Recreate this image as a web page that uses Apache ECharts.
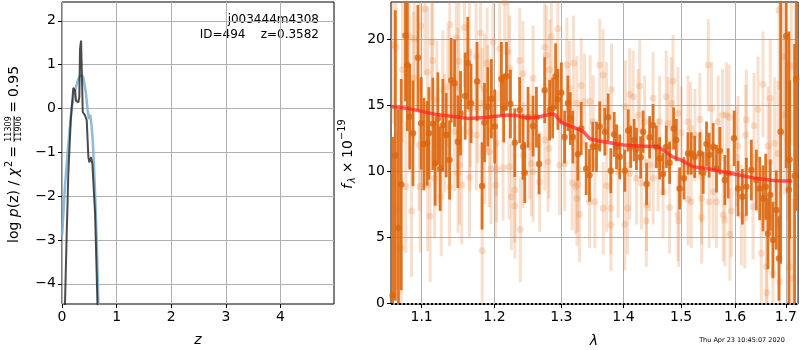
<!DOCTYPE html>
<html>
<head>
<meta charset="utf-8">
<script src="https://cdn.jsdelivr.net/npm/echarts@6/dist/echarts.min.js"></script>
<style>
  html, body { margin: 0; padding: 0; background: #fff; }
  #chart { width: 800px; height: 350px; }
</style>
</head>
<body>
<div id="chart"></div>
<script>
// p(z) panel
const pzBlue = [[0.0, -2.9], [0.012, -2.71], [0.055, -1.76], [0.116, -0.81], [0.178, 0.03], [0.239, 0.41],
  [0.30, 0.68], [0.349, 0.77], [0.391, 0.71], [0.44, 0.33], [0.47, -0.05], [0.495, -0.24], [0.514, -0.14],
  [0.538, -0.35], [0.563, -0.73], [0.587, -1.34], [0.611, -2.1], [0.636, -3.01], [0.666, -4.45], [0.69, -5.5]];
const pzDark = [[0.045, -6.0], [0.055, -4.45], [0.086, -2.87], [0.116, -1.49], [0.16, -0.27], [0.207, 0.47],
  [0.239, 0.41], [0.257, 0.18], [0.30, 0.14], [0.317, 0.26], [0.33, 1.36], [0.349, 1.55], [0.361, 0.94],
  [0.38, -0.08], [0.422, -0.16], [0.453, -0.27], [0.483, -1.11], [0.50, -1.23], [0.532, -1.11],
  [0.556, -1.26], [0.606, -2.4], [0.648, -4.38], [0.665, -6.0]];
const zTicks = [0, 1, 2, 3, 4];
const lnpTicks = [-4, -3, -2, -1, 0, 1, 2];

// spectrum panel: [lambda, flux, error]
const darkPts = [
  [1.0625, 0.6, 12], [1.0660, 11.2, 11], [1.0700, 5.7, 9], [1.0735, 9.0, 8], [1.0790, 20.3, 5],
  [1.0814, 18.05, 5], [1.0845, 14.14, 4], [1.0887, 12.88, 4], [1.0952, 18.6, 4], [1.0995, 13.64, 3.5],
  [1.1030, 12.07, 3.5], [1.1073, 12.12, 3.2], [1.1096, 12.88, 3.5], [1.1149, 13.6, 3.5], [1.1179, 10.6, 3.2],
  [1.1216, 14.0, 3.5], [1.1247, 10.2, 3.2], [1.1283, 13.5, 3.5], [1.1328, 12.75, 3.2], [1.1374, 10.86, 3],
  [1.1396, 16.9, 3.2], [1.1442, 16.67, 3.3], [1.1487, 12.24, 3.5], [1.1524, 14.4, 3.2], [1.1588, 15.7, 3.3],
  [1.1624, 18.2, 3.5], [1.1670, 15.15, 3], [1.1754, 16.8, 3], [1.1824, 8.89, 3.3], [1.1858, 13.7, 3],
  [1.1905, 14.9, 3], [1.1957, 15.5, 3], [1.2004, 13.4, 2.8], [1.2101, 17.0, 2.8], [1.2134, 14.8, 2.6],
  [1.2174, 17.2, 2.6], [1.2232, 15.1, 2.6], [1.2295, 12.17, 2.6], [1.2368, 14.64, 2.5], [1.2417, 11.86, 2.5],
  [1.2443, 9.9, 2.3], [1.2492, 14.1, 2.3], [1.2567, 13.43, 2.3], [1.2618, 14.1, 2.3], [1.2657, 10.55, 2.3],
  [1.2743, 16.15, 2.5], [1.2819, 14.64, 2.3], [1.2865, 14.8, 2.3], [1.2911, 17.2, 2.5], [1.2946, 15.45, 2.3],
  [1.2999, 15.95, 2.3], [1.3050, 12.6, 2], [1.3102, 15.15, 2.1], [1.3139, 14.0, 2], [1.3180, 12.6, 2],
  [1.3259, 11.3, 2], [1.3312, 13.25, 2], [1.3391, 10.2, 2], [1.3444, 9.7, 2], [1.3498, 11.86, 1.9],
  [1.3557, 11.86, 1.9], [1.3610, 13.4, 1.9], [1.3692, 13.0, 1.8], [1.3748, 14.1, 1.8], [1.3791, 10.05, 1.7],
  [1.3847, 12.8, 1.7], [1.3885, 11.86, 1.7], [1.3939, 11.1, 1.7], [1.4023, 10.05, 1.6], [1.4080, 13.1, 1.6],
  [1.4123, 11.86, 1.6], [1.4181, 12.37, 1.6], [1.4220, 11.7, 1.6], [1.4292, 11.06, 1.6], [1.4333, 13.0, 1.6],
  [1.4394, 9.04, 1.6], [1.4446, 12.58, 1.6], [1.4505, 13.5, 1.6], [1.4562, 11.86, 1.6], [1.4619, 10.98, 1.6],
  [1.4679, 9.8, 1.6], [1.4736, 11.86, 1.6], [1.4795, 10.65, 1.6], [1.4866, 13.25, 1.6], [1.4913, 12.37, 1.6],
  [1.4973, 8.7, 1.6], [1.5051, 9.47, 1.6], [1.5123, 11.36, 1.6], [1.5182, 11.36, 1.6], [1.5245, 11.1, 1.6],
  [1.5340, 11.36, 1.6], [1.5401, 9.9, 1.6], [1.5462, 12.07, 1.7], [1.5511, 11.23, 1.7], [1.5585, 11.86, 1.8],
  [1.5647, 10.2, 1.8], [1.5710, 11.56, 1.8], [1.5804, 9.34, 1.9], [1.5867, 9.85, 1.9], [1.5980, 12.5, 2.1],
  [1.6056, 8.7, 2.1], [1.6139, 8.07, 2.1], [1.6216, 8.83, 2.2], [1.6313, 10.1, 2.3], [1.6410, 9.34, 2.3],
  [1.6477, 8.7, 2.4], [1.6542, 7.95, 2.5], [1.6595, 8.83, 2.5], [1.6640, 5.3, 2.7], [1.6686, 8.2, 2.7],
  [1.6739, 4.8, 2.9], [1.6806, 7.07, 3], [1.6860, 3.4, 3.2], [1.6894, 13.0, 10], [1.7007, 20.25, 10],
  [1.7062, 8.6, 12], [1.7076, 10.9, 6], [1.7178, 9.64, 10], [1.7211, 17.0, 10]
];
const lightPts = [
  [1.0630, 19.6, 6], [1.0667, 19.4, 6], [1.0672, 7.07, 6], [1.0737, 4.17, 5], [1.0752, 17.7, 5.5],
  [1.0795, 8.83, 5], [1.0838, 20.3, 5], [1.0868, 7.0, 5], [1.0894, 17.1, 5], [1.0903, 20.07, 5],
  [1.0968, 12.0, 5], [1.0981, 8.83, 5], [1.0989, 21.0, 5], [1.1042, 22.3, 5], [1.1077, 17.5, 5],
  [1.1080, 8.96, 5], [1.1113, 6.6, 5], [1.1134, 19.8, 4.5], [1.1145, 18.4, 4.5], [1.1172, 9.47, 4.5],
  [1.1203, 15.4, 4.5], [1.1216, 11.86, 4.5], [1.1261, 8.07, 4.5], [1.1283, 16.2, 4.5], [1.1306, 12.88, 4.5],
  [1.1351, 16.4, 4.5], [1.1374, 8.83, 4.5], [1.1376, 21.1, 4.5], [1.1442, 13.0, 4.5], [1.1464, 20.1, 4.5],
  [1.1487, 16.4, 4.5], [1.1490, 9.85, 4.5], [1.1501, 18.35, 4.5], [1.1510, 10.48, 4.5], [1.1541, 8.96, 4.5],
  [1.1578, 20.9, 4.5], [1.1646, 19.0, 4.5], [1.1648, 9.55, 4.5], [1.1650, 13.0, 4.5], [1.1662, 14.8, 4.5],
  [1.1740, 18.7, 4.2], [1.1742, 12.75, 4.2], [1.1764, 14.8, 4.2], [1.1802, 20.5, 4.2], [1.1824, 15.15, 4.2],
  [1.1826, 3.98, 4.2], [1.1858, 16.2, 4.2], [1.1860, 11.74, 4.2], [1.1896, 18.2, 4.2], [1.1905, 15.4, 4.2],
  [1.1929, 11.5, 4.2], [1.1952, 10.2, 4.2], [1.1980, 19.8, 4.2], [1.2019, 8.96, 4], [1.2029, 12.12, 4],
  [1.2031, 10.15, 4], [1.2076, 19.3, 4], [1.2124, 10.27, 4], [1.2149, 22.8, 4], [1.2197, 19.06, 4],
  [1.2212, 10.35, 4], [1.2222, 17.8, 4], [1.2246, 8.07, 4], [1.2295, 8.58, 4], [1.2297, 7.37, 4],
  [1.2368, 18.4, 4], [1.2378, 5.6, 4], [1.2417, 17.4, 4], [1.2419, 11.23, 4], [1.2517, 11.86, 4],
  [1.2542, 10.6, 4], [1.2567, 17.05, 4], [1.2569, 9.97, 3.8], [1.2667, 9.21, 3.8], [1.2743, 19.4, 3.8],
  [1.2745, 12.37, 3.8], [1.2769, 18.8, 3.8], [1.2794, 10.73, 3.8], [1.2809, 11.74, 3.8], [1.2819, 17.7, 3.8],
  [1.2845, 20.2, 3.8], [1.2946, 20.8, 3.8], [1.2972, 10.48, 3.8], [1.3050, 10.6, 3.6], [1.3086, 18.05, 3.6],
  [1.3128, 16.3, 3.6], [1.3170, 9.14, 3.6], [1.3191, 18.2, 3.6], [1.3222, 8.83, 3.6], [1.3243, 15.15, 3.6],
  [1.3245, 7.95, 3.6], [1.3259, 9.0, 3.6], [1.3285, 6.74, 3.6], [1.3312, 16.5, 3.6], [1.3364, 15.3, 3.6],
  [1.3444, 7.7, 3.5], [1.3455, 15.3, 3.5], [1.3503, 13.76, 3.5], [1.3530, 7.7, 3.5], [1.3610, 18.05, 3.5],
  [1.3665, 17.3, 3.5], [1.3667, 7.2, 3.5], [1.3720, 14.77, 3.5], [1.3722, 8.91, 3.5], [1.3791, 7.2, 3.5],
  [1.3793, 5.93, 3.5], [1.3802, 16.2, 3.5], [1.3912, 9.97, 3.5], [1.4023, 6.0, 3.5], [1.4034, 14.9, 3.5],
  [1.4068, 7.2, 3.5], [1.4106, 15.83, 3.5], [1.4108, 9.85, 3.5], [1.4164, 15.65, 3.5], [1.4220, 9.47, 3.5],
  [1.4249, 14.26, 3.5], [1.4275, 16.46, 3.5], [1.4304, 9.09, 3.5], [1.4360, 13.76, 3.5], [1.4389, 6.26, 3.5],
  [1.4395, 7.45, 3.5], [1.4446, 10.48, 3.5], [1.4505, 15.53, 3.5], [1.4507, 9.47, 3.5], [1.4591, 10.48, 3.5],
  [1.4619, 13.76, 3.5], [1.4679, 8.45, 3.5], [1.4736, 15.65, 3.5], [1.4766, 13.64, 3.5], [1.4795, 7.27, 3.5],
  [1.4824, 15.15, 3.5], [1.4855, 16.84, 3.5], [1.4943, 14.4, 3.5], [1.4945, 6.69, 3.5], [1.4956, 6.26, 3.5],
  [1.5003, 12.93, 3.5], [1.5123, 13.76, 3.5], [1.5125, 7.88, 3.5], [1.5170, 13.26, 3.5], [1.5182, 7.7, 3.5],
  [1.5249, 12.75, 3.5], [1.5340, 13.94, 3.5], [1.5369, 9.6, 3.5], [1.5371, 7.95, 3.5], [1.5373, 6.51, 3.5],
  [1.5494, 18.05, 3.5], [1.5511, 7.7, 3.5], [1.5554, 14.77, 3.5], [1.5585, 8.45, 3.5], [1.5647, 7.7, 3.5],
  [1.5679, 13.76, 3.5], [1.5760, 14.26, 3.5], [1.5772, 6.69, 3.5], [1.5804, 6.31, 3.5], [1.5834, 14.26, 4],
  [1.5885, 14.1, 4], [1.5898, 5.23, 3.5], [1.5929, 7.0, 3.5], [1.6024, 11.1, 3.8], [1.6056, 11.92, 3.8],
  [1.6120, 6.69, 3.8], [1.6185, 6.44, 3.8], [1.6204, 12.75, 3.8], [1.6216, 13.9, 3.8], [1.6346, 7.32, 4],
  [1.6365, 13.45, 4], [1.6443, 14.7, 4], [1.6508, 3.79, 4], [1.6542, 16.6, 4], [1.6607, 2.77, 4.5],
  [1.6620, 0.8, 4.5], [1.6640, 11.92, 4.5], [1.6674, 10.73, 4.5], [1.6686, 15.53, 4.5], [1.6739, 2.27, 4.5],
  [1.6773, 12.12, 5], [1.6840, 11.36, 5.5], [1.6860, 22.2, 6], [1.6874, 1.64, 5.5], [1.6941, 18.7, 6],
  [1.6975, 14.26, 6], [1.7042, 12.37, 6], [1.7076, 2.77, 6], [1.7109, 17.98, 6], [1.7143, 1.9, 6]
];
const modelLam = [1.0605, 1.08, 1.093, 1.12, 1.151, 1.164, 1.19, 1.217, 1.232, 1.242, 1.25, 1.265, 1.284,
  1.29, 1.30, 1.315, 1.329, 1.337, 1.344, 1.36, 1.38, 1.40, 1.43, 1.459, 1.47, 1.485, 1.50, 1.522, 1.55,
  1.576, 1.61, 1.64, 1.67, 1.69, 1.713];
const modelFlux = [14.92, 14.78, 14.64, 14.3, 14.09, 14.0, 14.1, 14.26, 14.24, 14.09, 14.05, 14.12, 14.34,
  14.3, 13.7, 13.4, 13.15, 12.9, 12.5, 12.3, 12.15, 12.0, 11.92, 11.86, 11.55, 11.1, 10.85, 10.35, 10.2,
  9.97, 9.7, 9.47, 9.33, 9.27, 9.27];
const lamTicks = [1.1, 1.2, 1.3, 1.4, 1.5, 1.6, 1.7];
const fluxTicks = [0, 5, 10, 15, 20];

const FONT = 'DejaVu Sans';
const chart = echarts.init(document.getElementById('chart'));

function minus(v) {
  return v < 0 ? '\u2212' + Math.abs(v) : String(v);
}

function axisCommon(ticks, fmt) {
  return {
    axisLine: { show: false, onZero: false },
    axisTick: { show: true, inside: false, length: 4, customValues: ticks, lineStyle: { color: '#000', width: 1 } },
    axisLabel: { customValues: ticks, color: '#000', fontFamily: FONT, fontSize: 14, margin: 6, formatter: fmt },
    splitLine: { show: true, lineStyle: { color: '#b0b0b0', width: 1 } }
  };
}

function errorBars(color, width) {
  return function (params, api) {
    const x = api.value(0), y = api.value(1), e = api.value(2);
    const p1 = api.coord([x, y - e]);
    const p2 = api.coord([x, y + e]);
    return {
      type: 'line',
      shape: { x1: p1[0], y1: p1[1], x2: p2[0], y2: p2[1] },
      style: { stroke: color, lineWidth: width }
    };
  };
}

const option = {
  animation: false,
  grid: [
    { left: 62, right: 466, top: 2, bottom: 46, show: true, borderColor: '#000', borderWidth: 1, backgroundColor: 'transparent' },
    { left: 391, right: 1, top: 2, bottom: 46, show: true, borderColor: '#000', borderWidth: 1, backgroundColor: 'transparent' }
  ],
  xAxis: [
    Object.assign({ type: 'value', gridIndex: 0, min: 0, max: 4.98 }, axisCommon(zTicks, v => String(v))),
    Object.assign({ type: 'log', gridIndex: 1, min: 1.0605, max: 1.725 }, axisCommon(lamTicks, v => v.toFixed(1)))
  ],
  yAxis: [
    Object.assign({ type: 'value', gridIndex: 0, min: -4.46, max: 2.43 }, axisCommon(lnpTicks, minus)),
    Object.assign({ type: 'value', gridIndex: 1, min: -0.05, max: 22.83 }, axisCommon(fluxTicks, v => String(v)))
  ],
  series: [
    {
      type: 'line', xAxisIndex: 0, yAxisIndex: 0, data: pzBlue, showSymbol: false, clip: true,
      lineStyle: { color: 'rgba(120,175,215,0.85)', width: 2.5 }, z: 3
    },
    {
      type: 'line', xAxisIndex: 0, yAxisIndex: 0, data: pzDark, showSymbol: false, clip: true,
      lineStyle: { color: 'rgba(45,45,45,0.85)', width: 2 }, z: 4
    },
    {
      type: 'custom', xAxisIndex: 1, yAxisIndex: 1, data: lightPts, clip: true,
      encode: { x: 0, y: 1 }, renderItem: errorBars('rgba(232,130,60,0.25)', 3), z: 2
    },
    {
      type: 'scatter', xAxisIndex: 1, yAxisIndex: 1, data: lightPts, symbolSize: 7, clip: true,
      itemStyle: { color: 'rgba(232,130,60,0.3)' }, z: 2
    },
    {
      type: 'custom', xAxisIndex: 1, yAxisIndex: 1, data: darkPts, clip: true,
      encode: { x: 0, y: 1 }, renderItem: errorBars('rgba(220,105,18,0.92)', 2.8), z: 3
    },
    {
      type: 'scatter', xAxisIndex: 1, yAxisIndex: 1, data: darkPts, symbolSize: 6.5, clip: true,
      itemStyle: { color: '#d96610' }, z: 3
    },
    {
      type: 'line', xAxisIndex: 1, yAxisIndex: 1, data: modelLam.map((l, i) => [l, modelFlux[i]]),
      showSymbol: false, lineStyle: { color: 'rgba(255,35,35,0.72)', width: 3.5 }, z: 5,
      markLine: {
        silent: true, symbol: 'none', label: { show: false },
        lineStyle: { color: '#000', type: [2, 2], width: 2 },
        data: [{ yAxis: 0 }]
      }
    }
  ],
  graphic: [
    { type: 'text', x: 319, y: 20, style: { text: 'j003444m4308', fill: '#000', font: '12px "DejaVu Sans"', textAlign: 'right', textVerticalAlign: 'middle' } },
    { type: 'text', x: 319, y: 35, style: { text: 'ID=494    z=0.3582', fill: '#000', font: '12px "DejaVu Sans"', textAlign: 'right', textVerticalAlign: 'middle' } },
    { type: 'text', x: 198, y: 340, style: { text: 'z', fill: '#000', font: 'italic 14px "DejaVu Sans"', textAlign: 'center', textVerticalAlign: 'middle' } },
    { type: 'text', x: 594, y: 341, style: { text: '\u03bb', fill: '#000', font: 'italic 14px "DejaVu Sans"', textAlign: 'center', textVerticalAlign: 'middle' } },
    { type: 'text', x: 742, y: 340, style: { text: 'Thu Apr 23 10:45:07 2020', fill: '#000', font: '6.5px "DejaVu Sans"', textAlign: 'center', textVerticalAlign: 'middle' } },
    {
      type: 'group', x: 14, y: 154, rotation: Math.PI / 2,
      children: [
        { type: 'text', x: -89, y: 0, style: {
          text: '{n|log }{i|p}{n|(z) / }{i|\u03c7}', textAlign: 'left', textVerticalAlign: 'middle',
          rich: { n: { fontFamily: FONT, fontSize: 14, color: '#000' }, i: { fontFamily: FONT, fontSize: 14, fontStyle: 'italic', color: '#000' } } } },
        { type: 'text', x: -13, y: -5, style: { text: '2', fill: '#000', font: '9.8px "DejaVu Sans"', textAlign: 'left', textVerticalAlign: 'middle' } },
        { type: 'text', x: 2, y: 0, style: { text: '=', fill: '#000', font: '14px "DejaVu Sans"', textAlign: 'center', textVerticalAlign: 'middle' } },
        { type: 'text', x: 25, y: -5.5, style: { text: '11309', fill: '#000', font: '8px "DejaVu Sans"', textAlign: 'center', textVerticalAlign: 'middle' } },
        { type: 'line', shape: { x1: 12, y1: 0, x2: 38, y2: 0 }, style: { stroke: '#000', lineWidth: 0.8 } },
        { type: 'text', x: 25, y: 5, style: { text: '11906', fill: '#000', font: '8px "DejaVu Sans"', textAlign: 'center', textVerticalAlign: 'middle' } },
        { type: 'text', x: 47, y: 0, style: { text: '=', fill: '#000', font: '14px "DejaVu Sans"', textAlign: 'center', textVerticalAlign: 'middle' } },
        { type: 'text', x: 57, y: 0, style: { text: '0.95', fill: '#000', font: '14px "DejaVu Sans"', textAlign: 'left', textVerticalAlign: 'middle' } }
      ]
    },
    {
      type: 'group', x: 348, y: 155, rotation: Math.PI / 2,
      children: [
        { type: 'text', x: -34, y: 0, style: { text: 'f', fill: '#000', font: 'italic 14px "DejaVu Sans"', textAlign: 'left', textVerticalAlign: 'middle' } },
        { type: 'text', x: -28, y: 4, style: { text: '\u03bb', fill: '#000', font: 'italic 9.8px "DejaVu Sans"', textAlign: 'left', textVerticalAlign: 'middle' } },
        { type: 'text', x: -12.5, y: 0, style: { text: '\u00d7', fill: '#000', font: '14px "DejaVu Sans"', textAlign: 'center', textVerticalAlign: 'middle' } },
        { type: 'text', x: -3, y: 0, style: { text: '10', fill: '#000', font: '14px "DejaVu Sans"', textAlign: 'left', textVerticalAlign: 'middle' } },
        { type: 'text', x: 15, y: -6, style: { text: '\u221219', fill: '#000', font: '9.8px "DejaVu Sans"', textAlign: 'left', textVerticalAlign: 'middle' } }
      ]
    }
  ]
};

chart.setOption(option);
</script>
</body>
</html>
